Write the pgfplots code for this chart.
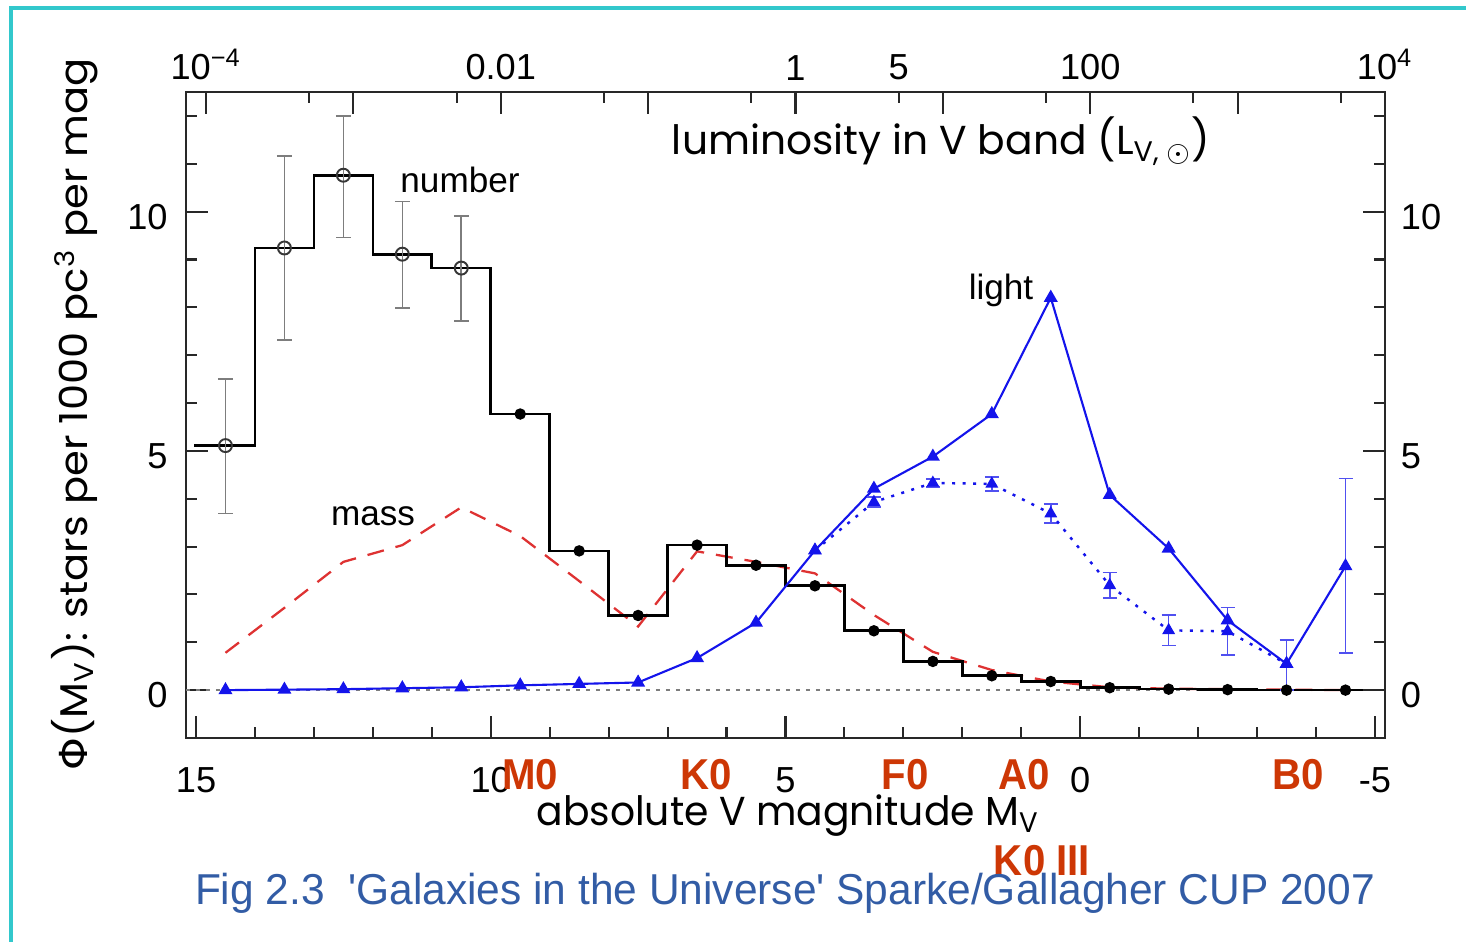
\documentclass[border=0pt]{standalone}
\usepackage{pgfplots}
\pgfplotsset{compat=1.18}
\usepackage{fontspec}
\setmainfont{Liberation Sans}
\newfontfamily\labelfont{Poppins}
\newfontfamily\symfont{DejaVu Sans}

\definecolor{framecyan}{RGB}{50,200,204}
\definecolor{hist}{RGB}{55,55,55}
\definecolor{errgray}{RGB}{125,125,125}
\definecolor{massred}{RGB}{222,50,50}
\definecolor{lumblue}{RGB}{20,20,235}
\definecolor{errblue}{RGB}{80,80,240}
\definecolor{spec}{RGB}{205,55,5}
\definecolor{captionblue}{RGB}{50,92,165}
\definecolor{axisgray}{RGB}{40,40,40}

\newcommand{\tickfont}{\fontsize{10.3}{12}\selectfont}
\newcommand{\specfont}{\fontsize{12.3}{14}\selectfont\bfseries}

\pgfplotsset{
  bluebars/.style={draw=none, mark=none, forget plot,
    error bars/.cd, y dir=both, y explicit,
    error bar style={draw=errblue, line width=0.45pt, solid},
    error mark options={draw=errblue, rotate=90, mark size=0.7mm, line width=0.45pt, solid}},
}

\begin{document}
\begin{tikzpicture}
\useasboundingbox (0,0) rectangle (14.66,9.42);
\draw[framecyan, line width=0.4mm] (0.11,0) -- (0.11,9.335) -- (14.66,9.335);

% main axis: absolute magnitude (bottom) and Phi (left)
\begin{axis}[
  at={(1.86cm,2.04cm)}, anchor=south west,
  width=11.99cm, height=6.46cm, scale only axis,
  xmin=-5.17, xmax=15.17, x dir=reverse,
  ymin=-1, ymax=12.5,
  axis line style={axisgray, line width=0.7pt},
  tick style={axisgray, line width=0.6pt},
  tick align=inside,
  major tick length=2.2mm, minor tick length=1.1mm,
  xtick={15,10,5,0,-5}, xticklabels={15,10,5,0,-5},
  minor xtick={14,13,12,11,9,8,7,6,4,3,2,1,-1,-2,-3,-4},
  xtick pos=lower,
  ytick={0,5,10}, yticklabels={0,5,10},
  minor ytick={1,2,3,4,6,7,8,9,11,12},
  ytick pos=left,
  xticklabel style={font=\tickfont, yshift=-1.7mm},
  yticklabel style={font=\tickfont, xshift=-0.6mm, yshift=-0.5mm},
]
% zero reference
\addplot[errgray, line width=0.5pt, dash pattern=on 0.4mm off 0.6mm] coordinates {(15.17,0) (-5.17,0)};

% mass
\addplot[massred, line width=0.65pt, dash pattern=on 1.7mm off 1.2mm] coordinates {
(14.5,0.78)(13.5,1.72)(12.5,2.68)(11.5,3.03)(10.5,3.82)(9.5,3.22)(8.5,2.28)(7.5,1.33)
(6.5,2.90)(5.5,2.68)(4.5,2.44)(3.5,1.57)(2.5,0.80)(1.5,0.42)(0.5,0.18)(-0.5,0.06)
(-1.5,0.03)(-2.5,0.02)(-3.5,0.01)(-4.5,0.0)};

% number histogram
\addplot[hist, line width=0.75pt, const plot, mark=none] coordinates {
(15.03,5.11)(14,9.24)(13,10.76)(12,9.11)(11,8.82)(10,5.77)(9,2.91)(8,1.56)(7,3.03)
(6,2.61)(5,2.18)(4,1.24)(3,0.60)(2,0.30)(1,0.18)(0,0.05)(-1,0.02)(-2,0.01)(-3,0.0)
(-4,0.0)(-5,0.0)(-5.17,0.0)};

% number: open circles with errors
\addplot[only marks, mark=o, mark size=0.65mm, mark options={hist, line width=0.55pt},
  error bars/.cd, y dir=both, y explicit,
  error bar style={errgray, line width=0.45pt},
  error mark options={errgray, rotate=90, mark size=0.75mm, line width=0.45pt}]
coordinates {
(14.5,5.11) += (0,1.39) -= (0,1.42)
(13.5,9.24) += (0,1.92) -= (0,1.92)
(12.5,10.76) += (0,1.24) -= (0,1.30)
(11.5,9.11) += (0,1.10) -= (0,1.13)
(10.5,8.82) += (0,1.09) -= (0,1.10)};

% number: filled dots
\addplot[only marks, mark=*, mark size=0.5mm, black] coordinates {
(9.5,5.77)(8.5,2.91)(7.5,1.56)(6.5,3.03)(5.5,2.61)(4.5,2.18)(3.5,1.24)(2.5,0.60)
(1.5,0.30)(0.5,0.18)(-0.5,0.05)(-1.5,0.02)(-2.5,0.01)(-3.5,0.0)(-4.5,0.0)};

% light (solid)
\addplot[bluebars] coordinates {(-4.5,2.59) += (0,1.83) -= (0,1.82)};
\addplot[lumblue, line width=0.6pt, mark=triangle*, mark size=0.6mm] coordinates {
(14.5,0.0)(13.5,0.01)(12.5,0.02)(11.5,0.04)(10.5,0.06)(9.5,0.10)(8.5,0.13)(7.5,0.16)
(6.5,0.67)(5.5,1.41)(4.5,2.92)(3.5,4.21)(2.5,4.88)(1.5,5.77)(0.5,8.20)(-0.5,4.08)
(-1.5,2.96)(-2.5,1.46)(-3.5,0.55)(-4.5,2.59)};

% light (dotted)
\addplot[bluebars] coordinates {
(3.5,3.93) +- (0,0.10)
(2.5,4.33) +- (0,0.08)
(1.5,4.31) +- (0,0.15)
(0.5,3.69) +- (0,0.20)
(-0.5,2.19) +- (0,0.27)
(-1.5,1.25) +- (0,0.32)
(-2.5,1.23) +- (0,0.50)
(-3.5,0.55) += (0,0.50) -= (0,0.55)};
\addplot[lumblue, line width=0.7pt, dash pattern=on 0.3mm off 0.75mm,
  mark=triangle*, mark size=0.5mm, mark options={solid}] coordinates {
(4.5,2.92)(3.5,3.93)(2.5,4.33)(1.5,4.31)(0.5,3.69)(-0.5,2.19)(-1.5,1.25)(-2.5,1.23)(-3.5,0.55)};
\end{axis}

% second axis: luminosity (top) and right-hand scale
\begin{axis}[
  at={(1.86cm,2.04cm)}, anchor=south west,
  width=11.99cm, height=6.46cm, scale only axis,
  xmin=-5.17, xmax=15.17, x dir=reverse,
  ymin=-1, ymax=12.5,
  axis x line*=top, axis y line*=right,
  axis line style={axisgray, line width=0.7pt, -},
  tick style={axisgray, line width=0.6pt},
  tick align=inside,
  major tick length=2.2mm, minor tick length=1.1mm,
  xtick={14.83,12.33,9.83,7.33,4.83,2.33,-0.17,-2.67,-5.17},
  xticklabels={10\textsuperscript{−4},,0.01,,1,,100,,10\textsuperscript{4}},
  extra x ticks={13.08,10.58,8.08,5.58,3.08,0.58,-1.92,-4.42},
  extra x tick labels={,,,,5,,,},
  extra x tick style={major tick length=1.1mm},
  ytick={0,5,10}, yticklabels={0,5,10},
  minor ytick={1,2,3,4,6,7,8,9,11,12},
  xticklabel style={font=\tickfont, yshift=-0.05mm},
  yticklabel style={font=\tickfont, xshift=0.35mm, yshift=-0.5mm},
]
\addplot[draw=none] coordinates {(0,0)};
\end{axis}

% curve names
\node[anchor=base, font=\fontsize{10}{12}\selectfont] at (4.60,7.49) {number};
\node[anchor=base, font=\fontsize{10}{12}\selectfont] at (3.73,4.16) {mass};
\node[anchor=base, font=\fontsize{10}{12}\selectfont] at (10.01,6.42) {light};

% axis titles
\node[anchor=base] at (9.41,7.87) {\resizebox{5.38cm}{\height}{\labelfont\fontsize{11.5}{13}\selectfont luminosity in V band (L\textsubscript{V, $\odot$})}};
\node[anchor=base] at (7.88,1.16) {\resizebox{5.03cm}{\height}{\labelfont\fontsize{11.5}{13}\selectfont absolute V magnitude M\textsubscript{V}}};
\node[anchor=base, rotate=90] at (0.88,5.28) {\resizebox{7.12cm}{\height}{\labelfont\fontsize{11}{13}\selectfont{\symfont Φ}(M\textsubscript{V}): stars per 1000 pc\textsuperscript{3} per mag}};

% spectral types
\begin{scope}[every node/.style={anchor=base, text=spec, font=\specfont, xscale=0.93}]
\node at (5.30,1.52) {M0};
\node at (7.06,1.52) {K0};
\node at (9.05,1.52) {F0};
\node at (10.24,1.52) {A0};
\node at (12.98,1.52) {B0};
\node at (10.42,0.66) {K0 III};
\end{scope}

% source line
\node[anchor=base, text=captionblue] at (7.85,0.37) {\resizebox{11.8cm}{\height}{\fontsize{12.3}{14}\selectfont Fig 2.3\ \ \textquotesingle Galaxies in the Universe\textquotesingle\ Sparke/Gallagher CUP 2007}};
\end{tikzpicture}
\end{document}
